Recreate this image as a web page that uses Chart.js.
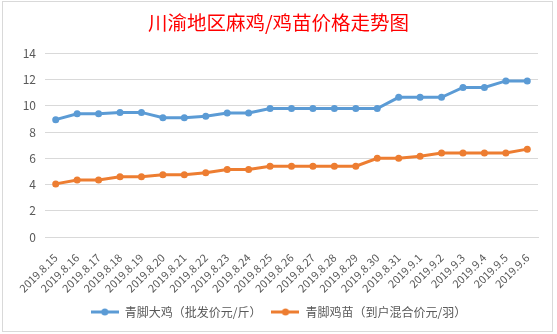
<!DOCTYPE html>
<html>
<head>
<meta charset="utf-8">
<script src="https://cdn.jsdelivr.net/npm/chart.js@4.4.1/dist/chart.umd.min.js"></script>
<style>
  html, body { margin: 0; padding: 0; background: #fff; }
  #wrap { position: absolute; left: 0; top: 0; width: 557px; height: 334px; }
</style>
</head>
<body>
<div id="wrap"><canvas id="myChart" width="557" height="334"></canvas></div>
<script>
'use strict'
const labels = ['2019.8.15', '2019.8.16', '2019.8.17', '2019.8.18', '2019.8.19', '2019.8.20',
  '2019.8.21', '2019.8.22', '2019.8.23', '2019.8.24', '2019.8.25', '2019.8.26', '2019.8.27',
  '2019.8.28', '2019.8.29', '2019.8.30', '2019.8.31', '2019.9.1', '2019.9.2', '2019.9.3',
  '2019.9.4', '2019.9.5', '2019.9.6'];
const bigChicken = [8.95, 9.4, 9.4, 9.5, 9.5, 9.1, 9.1, 9.2, 9.45, 9.45, 9.8, 9.8, 9.8,
  9.8, 9.8, 9.8, 10.65, 10.65, 10.65, 11.4, 11.4, 11.9, 11.9];
const chicks = [4.05, 4.35, 4.35, 4.6, 4.6, 4.75, 4.75, 4.9, 5.15, 5.15, 5.4, 5.4, 5.4,
  5.4, 5.4, 6.0, 6.0, 6.15, 6.4, 6.4, 6.4, 6.4, 6.7];
const seriesNames = ['青脚大鸡（批发价元/斤）', '青脚鸡苗（到户混合价元/羽）'];
const titleText = '川渝地区麻鸡/鸡苗价格走势图';

const font = '"Noto Sans CJK SC", "Noto Sans", sans-serif';
const blue = '#5b9bd5';
const orange = '#ed7d31';

//small picture for the legend: a line with a dot in the middle
function legendMark(color){
    let c = document.createElement('canvas');
    c.width = 28; c.height = 8;
    let ctx = c.getContext('2d');
    ctx.strokeStyle = color;
    ctx.lineWidth = 3;
    ctx.beginPath(); ctx.moveTo(0, 4); ctx.lineTo(28, 4); ctx.stroke();
    ctx.fillStyle = color;
    ctx.beginPath(); ctx.arc(14, 4, 3.5, 0, Math.PI*2); ctx.fill();
    return c;
}
const marks = [legendMark(blue), legendMark(orange)];

//white background and the chart frame
const frame = {
    id: 'frame',
    beforeDraw(chart){
        const ctx = chart.ctx;
        ctx.save();
        ctx.fillStyle = '#fff';
        ctx.fillRect(0, 0, chart.width, chart.height);
        ctx.strokeStyle = '#d9d9d9';
        ctx.lineWidth = 1;
        ctx.strokeRect(2.5, 1.5, 550, 330);
        ctx.restore();
    }
};

const chartData = {
    labels: labels,
    datasets: [{
        label: seriesNames[0],
        data: bigChicken,
        borderColor: blue,
        backgroundColor: blue,
        borderWidth: 3,
        pointRadius: 3.5,
        pointBorderWidth: 0,
        tension: 0
    }, {
        label: seriesNames[1],
        data: chicks,
        borderColor: orange,
        backgroundColor: orange,
        borderWidth: 3,
        pointRadius: 3.5,
        pointBorderWidth: 0,
        tension: 0
    }]
};

const config = {
    type: 'line',
    data: chartData,
    plugins: [frame],
    options: {
        responsive: false,
        animation: false,
        layout: { padding: { left: 19, right: 19, top: 0, bottom: 6 } },
        plugins: {
            title: {
                display: true,
                text: titleText,
                color: '#ff0000',
                font: { family: font, size: 19.5, weight: 'normal' },
                padding: { top: 11, bottom: 19 }
            },
            legend: {
                position: 'bottom',
                labels: {
                    color: '#595959',
                    font: { family: font, size: 12 },
                    usePointStyle: true,
                    pointStyleWidth: 28,
                    boxHeight: 8,
                    padding: 10,
                    generateLabels: function(chart){
                        return chart.data.datasets.map((ds, i) => ({
                            text: ds.label,
                            pointStyle: marks[i],
                            fillStyle: ds.borderColor,
                            strokeStyle: ds.borderColor,
                            lineWidth: 0,
                            datasetIndex: i,
                            hidden: false,
                            fontColor: '#595959'
                        }));
                    }
                }
            },
            tooltip: { enabled: false }
        },
        scales: {
            x: {
                offset: true,
                grid: { display: false },
                border: { color: '#d9d9d9' },
                ticks: {
                    color: '#595959',
                    font: { family: font, size: 11 },
                    maxRotation: 45,
                    minRotation: 45,
                    autoSkip: false,
                    padding: 6
                },
                afterFit: function(scale){ scale.height = 59; }
            },
            y: {
                min: 0,
                max: 14,
                grid: { color: '#d9d9d9', drawTicks: false },
                border: { display: false },
                ticks: {
                    stepSize: 2,
                    color: '#595959',
                    font: { family: font, size: 12 },
                    padding: 9
                },
                afterFit: function(scale){ scale.width = 26; }
            }
        }
    }
};

let myChart = new Chart(document.getElementById('myChart'), config);
</script>
</body>
</html>
